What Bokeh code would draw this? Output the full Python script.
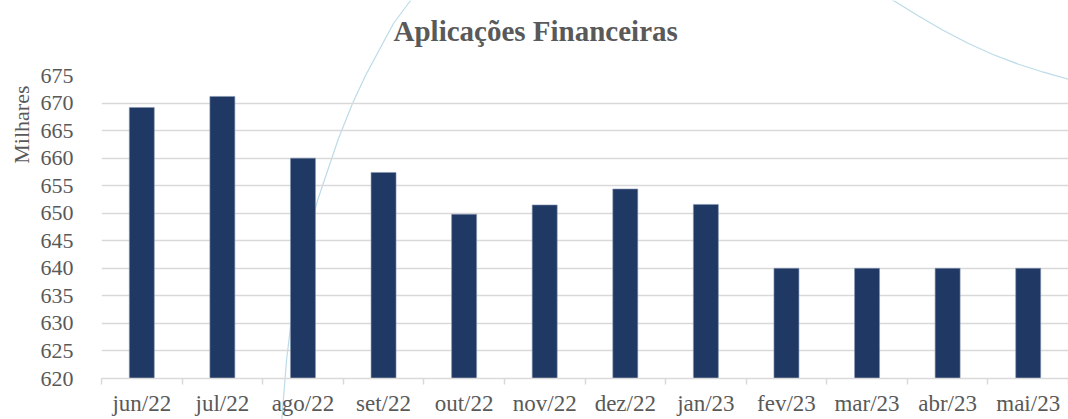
from bokeh.plotting import figure
from bokeh.layouts import column
from bokeh.models import FixedTicker, Range1d, Label, Title, ColumnDataSource
from bokeh.embed import file_html
from bokeh.resources import INLINE

months = ["jun/22", "jul/22", "ago/22", "set/22", "out/22", "nov/22",
          "dez/22", "jan/23", "fev/23", "mar/23", "abr/23", "mai/23"]
values = [669.2, 671.2, 660.0, 657.4, 649.8, 651.5, 654.4, 651.6, 640.0, 640.0, 640.0, 640.0]
y_ticks = [620, 625, 630, 635, 640, 645, 650, 655, 660, 665, 670, 675]

FONT = "Liberation Serif"
TXT = "#595959"
W, H = 1068, 419
LEFT = 101

# ---- background layer: decorative arcs and the title (page pixel coordinates)
arc1_x = [416, 410, 393, 365, 352, 338, 317, 303, 292, 286, 282, 281]
arc1_y = [-10, 0, 23, 75, 103, 138, 200, 255, 310, 360, 410, 425]
arc2_x = [880, 893, 918, 943, 968, 993, 1018, 1043, 1068, 1080]
arc2_y = [-8, 0, 15.5, 30, 43, 54.2, 63.7, 71.7, 78.7, 82]

bg = figure(width=W, height=H, output_backend="svg", toolbar_location=None,
            x_range=Range1d(LEFT, W), y_range=Range1d(H, 0),
            min_border_left=LEFT, min_border_right=0, min_border_top=0, min_border_bottom=0)
bg.axis.visible = False
bg.grid.visible = False
bg.outline_line_color = None
for ax, ay in ((arc1_x, arc1_y), (arc2_x, arc2_y)):
    bg.line(ax, ay, line_color="#bcdbe8", line_width=1.2)
bg.add_layout(Label(x=393, y=30, text="Aplicações Financeiras",
                    text_font=FONT, text_font_size="29px", text_font_style="bold",
                    text_color=TXT, text_align="left", text_baseline="alphabetic"))

# ---- main chart, laid over the background
p = figure(width=W, height=H, output_backend="svg", toolbar_location=None,
           x_range=Range1d(-0.5, len(months) - 0.5), y_range=Range1d(620, 675),
           min_border_left=LEFT, min_border_right=0, min_border_top=75, min_border_bottom=41,
           margin=(-H, 0, 0, 0))
p.outline_line_color = None
p.background_fill_alpha = 0
p.border_fill_alpha = 0

xs = list(range(len(months)))
src = ColumnDataSource(dict(x=xs, top=values))
p.vbar(x="x", top="top", bottom=620, width=0.31, source=src,
       fill_color="#203864", line_color="#8496b0", line_width=0.6)

# y axis
p.yaxis.ticker = FixedTicker(ticks=y_ticks)
p.yaxis.axis_line_color = None
p.yaxis.major_tick_line_color = None
p.yaxis.major_tick_out = 0
p.yaxis.minor_tick_line_color = None
p.yaxis.major_label_text_font = FONT
p.yaxis.major_label_text_font_size = "22px"
p.yaxis.major_label_text_color = TXT
p.yaxis.major_label_standoff = 28

# y axis title, aligned to the top as in the reference
p.add_layout(Title(text="Milhares", align="right", offset=10, standoff=7,
                   text_font=FONT, text_font_size="22px", text_font_style="normal",
                   text_color=TXT), "left")

# x axis
p.xaxis.ticker = FixedTicker(ticks=xs, minor_ticks=[i - 0.5 for i in range(len(months) + 1)])
p.xaxis.major_label_overrides = {i: m for i, m in enumerate(months)}
p.xaxis.axis_line_color = "#d9d9d9"
p.xaxis.axis_line_width = 1.5
p.xaxis.major_tick_line_color = None
p.xaxis.major_tick_out = 0
p.xaxis.minor_tick_line_color = "#d9d9d9"
p.xaxis.minor_tick_line_width = 1.5
p.xaxis.minor_tick_in = 0
p.xaxis.minor_tick_out = 6
p.xaxis.major_label_text_font = FONT
p.xaxis.major_label_text_font_size = "23px"
p.xaxis.major_label_text_color = TXT
p.xaxis.major_label_standoff = 6

p.xgrid.grid_line_color = None
p.ygrid.ticker = FixedTicker(ticks=y_ticks)
p.ygrid.grid_line_color = "#d9d9d9"
p.ygrid.grid_line_width = 1.5

layout = column(bg, p, spacing=0)
open("out.html", "w").write(file_html(layout, INLINE))
